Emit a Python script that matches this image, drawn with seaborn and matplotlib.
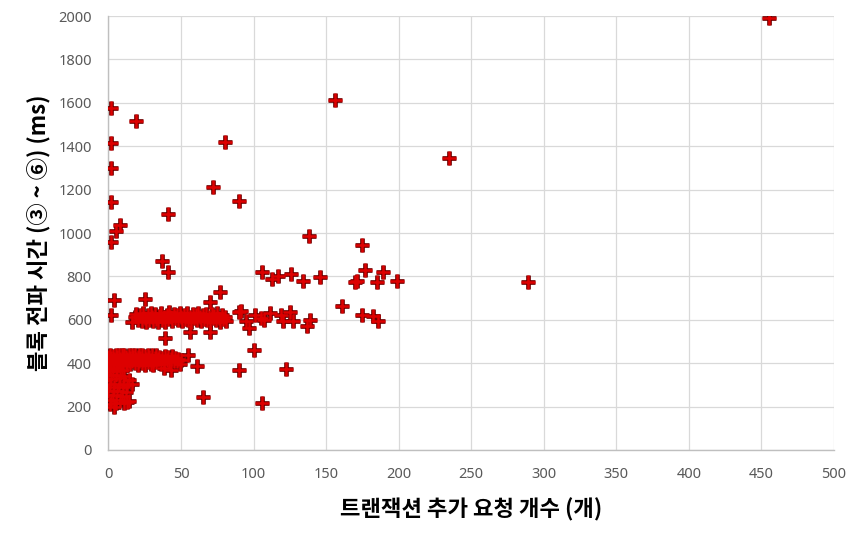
import pandas as pd
import matplotlib
matplotlib.use("Agg")
import matplotlib.pyplot as plt
import seaborn as sns

# ---------------------------------------------------
# DATA
# ---------------------------------------------------

# scattered points
outlier_x = [455, 156, 235, 289, 2, 19, 2, 2, 2, 80, 72, 90, 41, 8, 5, 2,
             138, 175, 37, 41, 106, 113, 117, 126, 134, 146, 171, 170, 177,
             185, 189, 199, 161, 175, 182, 186, 139, 137, 4, 2, 25, 77, 70,
             90, 39, 100, 90, 122, 106, 65, 56, 70]
outlier_y = [1990, 1615, 1347, 775, 1574, 1517, 1413, 1301, 1144, 1421, 1213,
             1147, 1089, 1039, 1008, 959, 988, 947, 873, 821, 821, 790, 804,
             813, 779, 798, 780, 772, 831, 776, 819, 778, 665, 624, 616, 596,
             600, 573, 693, 624, 697, 727, 683, 636, 515, 462, 370, 374, 218,
             246, 545, 545]

# points around 600 ms, x 90..140
mid_x = [91, 95, 97, 101, 105, 107, 111, 119, 120, 125, 127]
mid_y = [639, 593, 562, 624, 608, 600, 631, 624, 593, 634, 593]

# dense band around 400 ms
band400_x = [0, 0, 1, 1, 1, 2, 2, 3, 3, 4, 4, 5, 5, 6, 6, 7, 7, 8, 8, 9, 9,
             10, 10, 11, 11, 12, 12, 13, 13, 14, 14, 15, 15, 16, 16, 17, 18,
             18, 19, 20, 20, 21, 21, 22, 23, 23, 24, 25, 25, 26, 27, 27, 28,
             29, 29, 30, 31, 31, 32, 33, 33, 34, 35, 36, 37, 38, 38, 39, 40,
             41, 42, 43, 43, 44, 45, 46, 47, 48, 50, 55, 61, 49, 1, 3, 6, 9]
band400_y = [430, 405, 440, 415, 395, 425, 400, 435, 410, 420, 395, 440, 412,
             428, 398, 436, 408, 420, 392, 438, 410, 425, 398, 440, 415, 405,
             430, 392, 420, 438, 408, 425, 396, 440, 412, 430, 402, 436, 418,
             392, 430, 440, 410, 422, 400, 436, 415, 390, 432, 420, 440, 405,
             428, 395, 415, 438, 410, 392, 426, 440, 404, 418, 430, 398, 422,
             410, 378, 432, 415, 428, 405, 420, 370, 432, 412, 425, 408, 420,
             416, 439, 385, 395, 375, 365, 380, 370]

# lower block, small x, 200..350 ms
low_x = [0, 5, 11, 2, 8, 14, 1, 7, 13, 4, 10, 16, 0, 6, 12, 3, 9, 2, 8, 14,
         5, 1, 11, 4, 13]
low_y = [345, 345, 340, 325, 330, 322, 305, 305, 300, 290, 288, 305, 270,
         272, 268, 252, 250, 232, 230, 228, 215, 210, 215, 200, 222]

# dense band around 600 ms
band600_x = [16, 18, 19, 20, 22, 23, 24, 25, 26, 27, 28, 29, 30, 31, 32, 33,
             34, 35, 36, 37, 38, 39, 40, 41, 42, 43, 44, 45, 46, 47, 48, 49,
             50, 51, 52, 53, 54, 55, 56, 57, 58, 59, 60, 61, 62, 63, 64, 65,
             66, 67, 68, 69, 70, 71, 72, 73, 74, 75, 76, 77, 78, 79, 80, 81]
band600_y = [592, 612, 628, 600, 620, 595, 632, 608, 590, 622, 600, 632, 612,
             594, 625, 605, 590, 618, 630, 600, 612, 592, 624, 605, 634, 615,
             596, 628, 608, 620, 600, 632, 612, 595, 624, 605, 630, 598, 615,
             592, 626, 606, 620, 598, 632, 612, 594, 622, 604, 628, 600, 614,
             592, 626, 606, 618, 598, 630, 610, 592, 620, 604, 612, 596]

x_ticks = [0, 50, 100, 150, 200, 250, 300, 350, 400, 450, 500]
y_ticks = [0, 200, 400, 600, 800, 1000, 1200, 1400, 1600, 1800, 2000]

df = pd.DataFrame({
    "tx": band400_x + low_x + band600_x + mid_x + outlier_x,
    "ms": band400_y + low_y + band600_y + mid_y + outlier_y,
})

# ---------------------------------------------------
# PLOT
# ---------------------------------------------------

sns.set_theme(style="white")
plt.rcParams["font.family"] = ["Noto Sans CJK KR", "DejaVu Sans"]

fig = plt.figure(figsize=(8.61, 5.43), dpi=100)
ax = fig.add_axes([0.126, 0.1713, 0.8426, 0.7992])

# excel-style plus marker: dark outline underneath, red cross on top
sns.scatterplot(data=df, x="tx", y="ms", ax=ax, marker="+", s=105,
                color="#700000", linewidth=3.4, zorder=3, legend=False)
sns.scatterplot(data=df, x="tx", y="ms", ax=ax, marker="+", s=88,
                color="#DD0000", linewidth=1.8, zorder=4, legend=False)

ax.set_xlim(0, 500)
ax.set_ylim(0, 2000)
ax.set_xticks(x_ticks)
ax.set_yticks(y_ticks)
ax.grid(True, color="#D9D9D9", linewidth=0.9)
ax.set_axisbelow(True)

for side in ["top", "right"]:
    ax.spines[side].set_visible(False)
for side in ["left", "bottom"]:
    ax.spines[side].set_color("#BFBFBF")
    ax.spines[side].set_linewidth(1.0)

ax.tick_params(axis="both", length=0, pad=12, labelsize=10.5,
               labelcolor="#595959")
for lab in ax.get_xticklabels() + ax.get_yticklabels():
    lab.set_fontweight("bold")
    lab.set_family(["Noto Sans", "DejaVu Sans"])

ax.set_xlabel("트랜잭션 추가 요청 개수 (개)", fontsize=16, fontweight="bold",
              color="black", labelpad=12)
ax.set_ylabel("블록 전파 시간 (③ ~ ⑥) (ms)", fontsize=16, fontweight="bold",
              color="black", labelpad=6)

plt.savefig("out.png", dpi=100)
plt.close()
